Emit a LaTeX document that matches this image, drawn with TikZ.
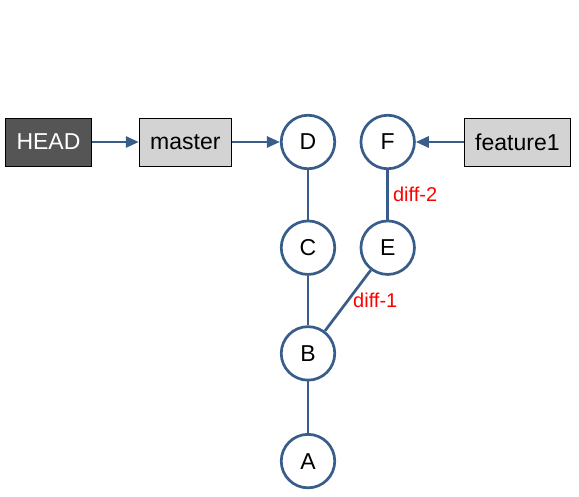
\documentclass[tikz,border=0pt]{standalone}
\usepackage{fontspec}
\setmainfont{Liberation Sans}
\usetikzlibrary{positioning,arrows.meta}
\definecolor{commitblue}{HTML}{385D8A}
\definecolor{refgray}{HTML}{D3D3D3}
\definecolor{headgray}{HTML}{555555}

\begin{document}
\begin{tikzpicture}[x=1pt,y=1pt,node distance=49.5pt,
  commit/.style={circle,draw=commitblue,line width=2.7pt,fill=white,minimum size=53.5pt,inner sep=0pt,font=\fontsize{23}{27}\selectfont},
  ref/.style={draw=black,line width=0.8pt,fill=refgray,minimum height=48pt,inner xsep=11pt,font=\fontsize{23}{27}\selectfont},
  link/.style={draw=commitblue,line width=2.7pt},
  pointer/.style={link,-{Triangle[length=13pt,width=11pt]}},
  difflabel/.style={text=red,font=\fontsize{20}{24}\selectfont,inner sep=4pt}]
\useasboundingbox (0,0) rectangle (579,496);
\node[commit] (D) at (308,354) {D};
\node[commit] (C) [below=of D] {C};
\node[commit] (B) [below=of C] {B};
\node[commit] (A) [below=51.5pt of B] {A};
\node[commit] (E) [right=23.5pt of C] {E};
\node[commit] (F) [right=23.5pt of D] {F};
\node[ref] (master) [left=48pt of D] {master};
\node[ref,fill=headgray,text=white] (head) [left=47pt of master] {HEAD};
\node[ref] (feature) [right=48pt of F] {feature1};

\draw[pointer] (head) -- (master);
\draw[pointer] (master) -- (D);
\draw[pointer] (feature) -- (F);
\draw[link] (D) -- (C);
\draw[link] (C) -- (B);
\draw[link] (B) -- (A);
\draw[link] (B) -- node[difflabel,right] {diff-1} (E);
\draw[link] (E) -- node[difflabel,right] {diff-2} (F);
\end{tikzpicture}
\end{document}
